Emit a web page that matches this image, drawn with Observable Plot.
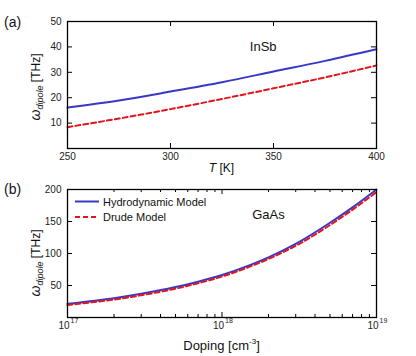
<!DOCTYPE html>
<html><head><meta charset="utf-8">
<script src="https://cdn.jsdelivr.net/npm/d3@7"></script>
<script src="https://cdn.jsdelivr.net/npm/@observablehq/plot@0.6"></script>
<style>
body{margin:0;background:#fff;font-family:"Liberation Sans",Arial,sans-serif}
#c svg{display:block;overflow:visible}
</style>
</head><body><div id="c"></div>
<script>
// ---- data ----
const tempK = [250, 275, 300, 325, 350, 375, 400];
const insbHydro = [16.1, 18.9, 22.4, 26.1, 30.3, 34.5, 39.1];
const insbDrude = [8.4, 11.8, 15.5, 19.5, 23.7, 28.0, 32.7];
const doping = [1e17, 1.5e17, 2e17, 3e17, 5e17, 7e17, 1e18, 1.5e18, 2e18, 3e18, 5e18, 7e18, 1e19];
const gaasHydro = [21.5, 26.3, 30.2, 37.0, 47.5, 56.0, 66.5, 81.5, 94.0, 115, 148, 172, 200];
const gaasDrude = [19.5, 24.3, 28.0, 34.8, 45.0, 53.5, 64.0, 79.0, 91.5, 112, 144.5, 168.5, 196];
const tTicks = [250, 300, 350, 400];
const yTicksA = [10, 20, 30, 40, 50];
const yTicksB = [50, 100, 150, 200];
const dopingMajor = [1e17, 1e18, 1e19];
const dopingMinor = [2e17,3e17,4e17,5e17,6e17,7e17,8e17,9e17,2e18,3e18,4e18,5e18,6e18,7e18,8e18,9e18];
const seriesNames = ["Hydrodynamic Model", "Drude Model"];

const BLUE = "#3838c8", RED = "#e4141c";
const W = 416, H = 178, ML = 67, MR = 40;
const FW = W - ML - MR;
const font = "Liberation Sans, Arial, sans-serif";

function inwardTicks(xTicks, yTicks, fh, major = 5, xMinor = [], minor = 3) {
  return [
    Plot.tickX(xTicks, {x: d => d, insetTop: fh - major, stroke: "black"}),
    Plot.tickX(xTicks, {x: d => d, insetBottom: fh - major, stroke: "black"}),
    Plot.tickX(xMinor, {x: d => d, insetTop: fh - minor, stroke: "black"}),
    Plot.tickX(xMinor, {x: d => d, insetBottom: fh - minor, stroke: "black"}),
    Plot.tickY(yTicks, {y: d => d, insetRight: FW - major, stroke: "black"}),
    Plot.tickY(yTicks, {y: d => d, insetLeft: FW - major, stroke: "black"})
  ];
}

// ---- panel (a) ----
const mtA = 21, mbA = 30, fhA = H - mtA - mbA;
const dataA = tempK.flatMap((t, i) => [
  {x: t, y: insbHydro[i], s: seriesNames[0]},
  {x: t, y: insbDrude[i], s: seriesNames[1]}
]);
const plotA = Plot.plot({
  width: W, height: H, marginLeft: ML, marginRight: MR, marginTop: mtA, marginBottom: mbA,
  style: {fontFamily: font, fontSize: "10px", color: "#222"},
  x: {domain: [250, 400]},
  y: {domain: [0, 50]},
  marks: [
    Plot.axisX(tTicks, {tickSize: 0, tickPadding: 4, label: null, fontSize: 10}),
    Plot.axisY(yTicksA, {tickSize: 0, tickPadding: 6, label: null, fontSize: 10}),
    Plot.line(dataA.filter(d => d.s === seriesNames[0]), {x: "x", y: "y", stroke: BLUE, strokeWidth: 2, curve: "monotone-x"}),
    Plot.line(dataA.filter(d => d.s === seriesNames[1]), {x: "x", y: "y", stroke: RED, strokeWidth: 2, strokeDasharray: "5,3", curve: "monotone-x"}),
    ...inwardTicks(tTicks, yTicksA, fhA),
    Plot.frame({stroke: "black", strokeWidth: 1.3}),
    Plot.text(["InSb"], {x: 345, y: 40, text: d => d, fontSize: 13, fill: "#111"})
  ]
});

// ---- panel (b) ----
const mtB = 11, mbB = 39, fhB = H - mtB - mbB;
const dataB = doping.flatMap((n, i) => [
  {x: n, y: gaasHydro[i], s: seriesNames[0]},
  {x: n, y: gaasDrude[i], s: seriesNames[1]}
]);
const plotB = Plot.plot({
  width: W, height: H, marginLeft: ML, marginRight: MR, marginTop: mtB, marginBottom: mbB,
  style: {fontFamily: font, fontSize: "10px", color: "#222"},
  x: {type: "log", domain: [1e17, 1e19]},
  y: {domain: [0, 200]},
  marks: [
    Plot.axisY(yTicksB, {tickSize: 0, tickPadding: 6, label: null, fontSize: 10}),
    Plot.axisX([], {label: null}),
    Plot.text(dopingMajor, {x: d => d, frameAnchor: "bottom", text: () => "10", textAnchor: "end", dx: 2, dy: 11, fontSize: 10, fill: "#222"}),
    Plot.text(dopingMajor, {x: d => d, frameAnchor: "bottom", text: d => String(Math.round(Math.log10(d))), textAnchor: "start", dx: 3, dy: 5, fontSize: 7, fill: "#222"}),
    Plot.line(dataB.filter(d => d.s === seriesNames[0]), {x: "x", y: "y", stroke: BLUE, strokeWidth: 2, curve: "monotone-x"}),
    Plot.line(dataB.filter(d => d.s === seriesNames[1]), {x: "x", y: "y", stroke: RED, strokeWidth: 2, strokeDasharray: "5,3", curve: "monotone-x"}),
    ...inwardTicks(dopingMajor, yTicksB, fhB, 5, dopingMinor, 3),
    Plot.frame({stroke: "black", strokeWidth: 1.3}),
    Plot.text(["GaAs"], {x: 2e18, y: 160, text: d => d, fontSize: 13, fill: "#111"})
  ]
});

const c = document.getElementById("c");
c.appendChild(plotA);
c.appendChild(plotB);

// ---- text decorations (panel letters, axis titles, legend) ----
function addYLabel(svg, cx, cy) {
  const t = d3.select(svg).append("text")
    .attr("transform", `translate(${cx},${cy}) rotate(-90)`)
    .attr("text-anchor", "middle").attr("font-family", font).attr("fill", "#111")
    .attr("font-size", 11);
  t.append("tspan").attr("font-style", "italic").attr("font-size", 14).text("ω");
  t.append("tspan").attr("font-style", "italic").attr("font-size", 9).attr("dy", 3).text("dipole");
  t.append("tspan").attr("dy", -3).attr("font-size", 12).text(" [THz]");
}
function addText(svg, x, y, str, size, anchor = "start") {
  return d3.select(svg).append("text").attr("x", x).attr("y", y).attr("font-family", font)
    .attr("font-size", size).attr("text-anchor", anchor).attr("fill", "#111").text(str);
}
// (a)
addText(plotA, 4, 27, "(a)", 14);
addYLabel(plotA, 40, 87);
{
  const t = d3.select(plotA).append("text").attr("x", ML + FW / 2).attr("y", 172)
    .attr("text-anchor", "middle").attr("font-family", font).attr("font-size", 12).attr("fill", "#111");
  t.append("tspan").attr("font-style", "italic").text("T");
  t.append("tspan").text(" [K]");
}
// (b)
addText(plotB, 4, 16, "(b)", 14);
addYLabel(plotB, 40, 85);
{
  const t = d3.select(plotB).append("text").attr("x", ML + FW / 2).attr("y", 172)
    .attr("text-anchor", "middle").attr("font-family", font).attr("font-size", 13).attr("fill", "#111");
  t.append("tspan").text("Doping [cm");
  t.append("tspan").attr("font-size", 8).attr("dy", -6).text("-3");
  t.append("tspan").attr("dy", 6).text("]");
}
// legend
{
  const g = d3.select(plotB).append("g");
  const items = [{name: seriesNames[0], color: BLUE, dash: null}, {name: seriesNames[1], color: RED, dash: "5,3"}];
  items.forEach((it, i) => {
    const y = 23.5 + i * 15.5;
    g.append("line").attr("x1", 75).attr("x2", 99).attr("y1", y).attr("y2", y)
      .attr("stroke", it.color).attr("stroke-width", 2).attr("stroke-dasharray", it.dash);
    g.append("text").attr("x", 103).attr("y", y + 4).attr("font-family", font).attr("font-size", 11)
      .attr("text-anchor", "start").attr("fill", "#111").text(it.name);
  });
}
</script>
</body></html>
